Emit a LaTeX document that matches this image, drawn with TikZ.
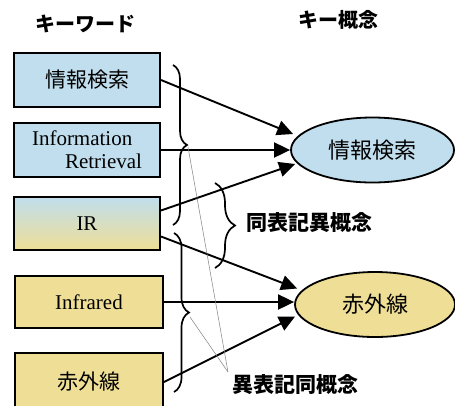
\documentclass[tikz,border=0pt]{standalone}
\usepackage{fontspec}
\setmainfont{Liberation Serif}
\newfontfamily\jp{Noto Sans CJK JP}
\usetikzlibrary{shapes.geometric,decorations.pathreplacing,arrows.meta,calc}
\definecolor{kblue}{RGB}{192,222,237}
\definecolor{kyel}{RGB}{238,222,150}
\tikzset{
  kbox/.style={draw=black,line width=2pt,minimum width=146pt,minimum height=54pt,inner sep=0pt,font=\fontsize{21}{23}\selectfont},
  kell/.style={ellipse,draw=black,line width=1.8pt,minimum width=163pt,minimum height=65pt,inner sep=0pt,font=\jp\fontsize{22}{24}\selectfont},
  arr/.style={line width=1.9pt,-{Triangle[length=16pt,width=15pt]}},
  brc/.style={decorate,decoration={brace,amplitude=#1},line width=1.7pt},
  glin/.style={draw=gray,line width=0.5pt},
  ttl/.style={font=\jp\bfseries\fontsize{20}{22}\selectfont,inner sep=0pt},
  lbl/.style={font=\jp\bfseries\fontsize{21}{23}\selectfont,inner sep=0pt,anchor=west},
}
\begin{document}
\begin{tikzpicture}[x=1pt,y=-1pt]
\useasboundingbox (0,0) rectangle (455,405);
\clip (0,0) rectangle (455,405);
\fill[white] (0,0) rectangle (455,405);
% titles
\node[ttl] (t1) at (85,24) {キーワード};
\node[ttl] (t2) at (338,20) {キー概念};
% keyword boxes
\node[kbox,fill=kblue,font=\jp\fontsize{21}{23}\selectfont] (b1) at (87,80) {情報検索};
\node[kbox,fill=kblue,align=left] (b2) at (87,150) {Information\\\hspace*{33pt}Retrieval};
\node[kbox,top color=kblue,middle color=kblue!45!kyel,bottom color=kyel,minimum height=53pt] (b3) at (87,223.5) {IR};
\node[kbox,fill=kyel,minimum width=148pt,minimum height=52pt] (b4) at (89,302) {Infrared};
\node[kbox,fill=kyel,minimum width=148pt,minimum height=58pt,font=\jp\fontsize{21}{23}\selectfont] (b5) at (89,382) {赤外線};
% concept ellipses
\node[kell,fill=kblue] (e1) at (372.5,150) {情報検索};
\node[kell,fill=kyel,minimum width=160pt] (e2) at (375,304.5) {赤外線};
% arrows
\draw[arr] (b1.east) -- ($(e1.west)+(3,-16)$);
\draw[arr] (b2.east) -- (b2.east -| e1.west);
\draw[arr] ($(b3.east)+(0,-13)$) -- ($(e1.west)+(5,14)$);
\draw[arr] ($(b3.east)+(0,13)$) -- ($(e2.west)+(3,-16)$);
\draw[arr] (b4.east) -- (b4.east -| e2.west);
\draw[arr] (b5.east) -- ($(e2.west)+(1,12)$);
% braces
\draw[brc=14pt] (173,65) -- (173,225);
\draw[brc=15pt] (174,233) -- (174,392);
\draw[brc=20pt] (215,183) -- (215,268);
% labels
\node[lbl] (l1) at (246,223) {同表記異概念};
\node[lbl] (l2) at (232,385) {異表記同概念};
% thin lines
\coordinate (g1) at (188,147);
\coordinate (g2) at (190,317);
\coordinate (gm) at (228,372);
\draw[glin] (g1) -- (gm);
\draw[glin] (g2) -- (gm);
\end{tikzpicture}
\end{document}
